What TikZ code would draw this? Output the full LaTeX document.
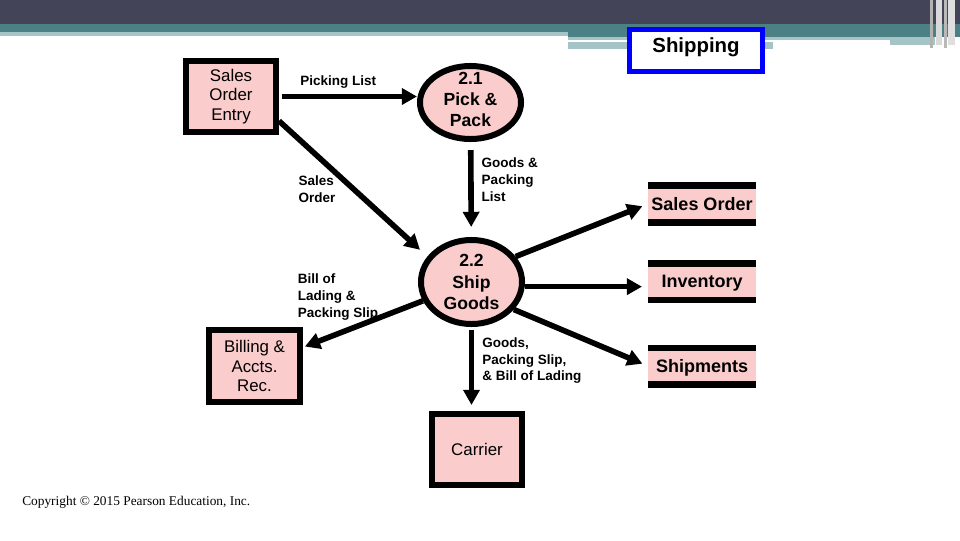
\documentclass[tikz,border=0pt]{standalone}
\usepackage{fontspec}
\setmainfont{Liberation Sans}
\newfontfamily\copyfont{Liberation Serif}
\usetikzlibrary{shapes.geometric, arrows.meta, positioning, calc}

\definecolor{boxpink}{RGB}{250,204,204}
\definecolor{slatebar}{RGB}{67,68,87}
\definecolor{tealbar}{RGB}{75,128,132}
\definecolor{mistbar}{RGB}{165,196,200}

\begin{document}
\begin{tikzpicture}[x=0.025cm, y=-0.025cm,
  proc/.style={ellipse, draw, line width=0.15cm, fill=boxpink, inner sep=0pt, inner ysep=-2pt, align=center, font=\fontsize{12.5}{15}\selectfont\bfseries},
  ext/.style={rectangle, draw, line width=0.15cm, fill=boxpink, minimum width=2.25cm, minimum height=1.775cm, align=center, font=\fontsize{12}{13.7}\selectfont},
  store/.style={rectangle, fill=boxpink, minimum width=2.7cm, minimum height=1.05cm, inner sep=0pt, outer sep=0pt, text height=11pt, text depth=2pt, font=\fontsize{12.8}{15}\selectfont\bfseries,
    path picture={\draw[line width=0.3cm] (path picture bounding box.north west) -- (path picture bounding box.north east) (path picture bounding box.south west) -- (path picture bounding box.south east);}},
  flow/.style={line width=0.14cm, -{Triangle[length=0.38cm, width=0.4cm]}},
  lbl/.style={inner sep=0pt, align=left, font=\fontsize{9.6}{12}\selectfont\bfseries}]
\useasboundingbox (0,0) rectangle (960,540);

%banner
\fill[slatebar] (0,0) rectangle (960,24);
\fill[tealbar] (0,24) rectangle (568,32);
\fill[mistbar] (0,32) rectangle (568,36);
\fill[tealbar] (568,24) rectangle (960,37);
\fill[mistbar] (568,37) rectangle (890,40);
\fill[mistbar] (568,42) rectangle (773,49);
\fill[mistbar] (890,37) rectangle (935,45);
\fill[gray!60] (930,0) rectangle (933,48);
\fill[gray!30] (936,0) rectangle (942,45);
\fill[gray!55] (944,0) rectangle (947,48);
\fill[gray!25] (948,0) rectangle (955,45);

%nodes
\node[draw=blue, line width=0.125cm, fill=white, minimum width=3.325cm, minimum height=1.05cm, text depth=7pt, font=\fontsize{14.5}{17}\selectfont\bfseries] (title) at (696,50.5) {Shipping};
\node[ext] (soe) at (231,96.5) {Sales\\Order\\Entry};
\node[proc, minimum width=2.525cm, minimum height=1.825cm, text depth=4.3pt, inner ysep=-3.5pt] (pick) at (470.5,102.5) {2.1\\Pick \&\\Pack};
\node[proc, minimum width=2.525cm, minimum height=2.1cm] (ship) at (471.5,282) {2.2\\Ship\\Goods};
\node[ext, minimum width=2.275cm, minimum height=1.8cm] (bill) at (254.5,366) {Billing \&\\Accts.\\Rec.};
\node[ext] (carr) at (477,449.5) {Carrier};
\node[store] (so) at (702,204) {Sales Order};
\node[store] (inv) at (702,281.5) {Inventory};
\node[store] (shp) at (702,366) {Shipments};
\node[anchor=west, inner sep=0pt, font=\copyfont\fontsize{9.5}{11}\selectfont] (copy) at (22,502) {Copyright © 2015 Pearson Education, Inc.};

%connections
\draw[flow, shorten <=0.075cm] (soe.east) -- (soe.east -| pick.west) node[lbl, pos=0.43, above=0.135cm] (lpick) {Picking List};
\draw[flow, shorten <=0.2cm, shorten >=0.25cm] (pick) -- (ship) node[lbl, pos=0.4, right=0.2cm] (lgoods) {Goods \&\\Packing\\List};
\draw[flow, shorten >=0.25cm] (soe.-27) -- (ship.150) node[lbl, pos=0.5, left=0.375cm] (lorder) {Sales\\Order};
\draw[flow, shorten >=0.05cm] (ship) -- (bill) node[lbl, pos=0.35, anchor=south east, yshift=-0.15cm] (lbill) {Bill of\\Lading \&\\Packing Slip};
\draw[flow, shorten <=0.075cm, shorten >=0.15cm] (ship.south) -- (ship.south |- carr.north) node[lbl, pos=0.4, right=0.2cm] (lcarr) {Goods,\\Packing Slip,\\\& Bill of Lading};
\draw[flow, shorten >=0.15cm] (ship.30) -- (so.west);
\draw[flow, shorten >=0.15cm] (ship.-5) -- (ship.-5 -| inv.west);
\draw[flow, shorten >=0.15cm] (ship.-33) -- (shp.west);
\end{tikzpicture}
\end{document}
